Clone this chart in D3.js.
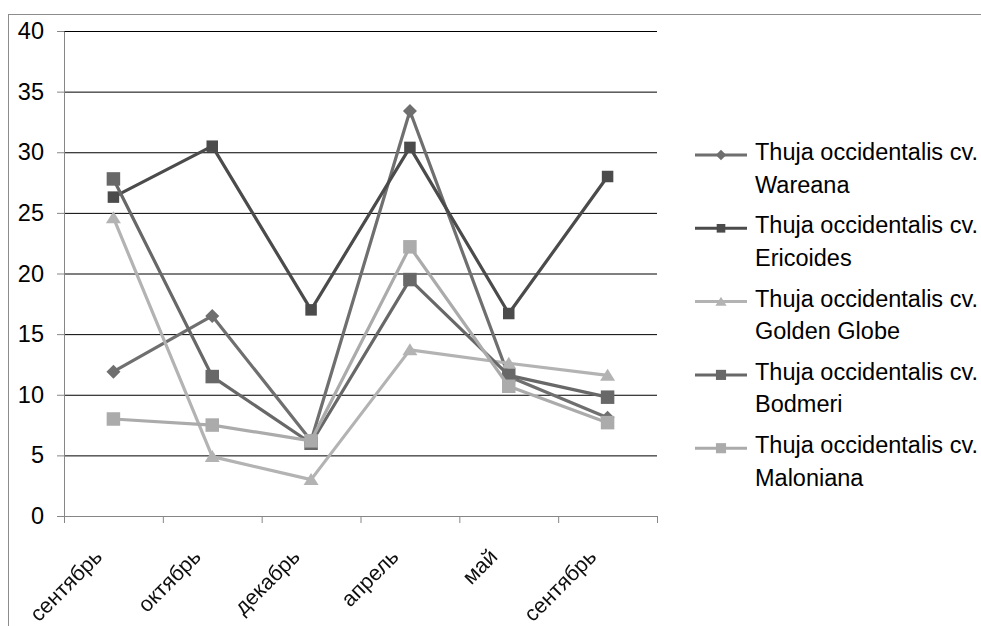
<!DOCTYPE html>
<html>
<head>
<meta charset="utf-8">
<script src="https://cdn.jsdelivr.net/npm/d3@7"></script>
<style>
  html, body { margin: 0; padding: 0; background: #fff; }
  svg { display: block; }
  text { font-family: "Liberation Sans", Arial, sans-serif; }
</style>
</head>
<body>
<svg id="chart" width="981" height="626"></svg>
<script>
// Months of observation
const months = ["сентябрь", "октябрь", "декабрь", "апрель", "май", "сентябрь"];
const yTicks = [0, 5, 10, 15, 20, 25, 30, 35, 40];

// Cultivar names (legend) and their measured values per month
const genus = "Thuja occidentalis cv.";
const cultivars = ["Wareana", "Ericoides", "Golden Globe", "Bodmeri", "Maloniana"];
const wareana     = [11.9, 16.5, 6.2, 33.4, 11.5, 8.1];
const ericoides   = [26.3, 30.5, 17.0, 30.4, 16.7, 28.0];
const goldenGlobe = [24.6, 4.9, 3.0, 13.7, 12.6, 11.6];
const bodmeri     = [27.8, 11.5, 6.0, 19.5, 11.6, 9.8];
const maloniana   = [8.0, 7.5, 6.2, 22.2, 10.7, 7.7];

const seriesValues = [wareana, ericoides, goldenGlobe, bodmeri, maloniana];
const colors  = ["#6f6f6f", "#4b4b4b", "#b3b3b3", "#686868", "#ababab"];
const markers = ["diamond", "smallSquare", "triangle", "square", "square"];

const svg = d3.select("#chart");

// slight softening used for the rotated month labels
svg.append("defs").append("filter").attr("id", "soft")
  .append("feGaussianBlur").attr("stdDeviation", 0.45);

// outer chart frame (runs off the right and bottom edges)
svg.append("rect")
  .attr("x", 8.5).attr("y", 14.5)
  .attr("width", 1100).attr("height", 700)
  .attr("fill", "none").attr("stroke", "#8c8c8c").attr("stroke-width", 1);

const plot = { left: 64, right: 657, top: 31, bottom: 516 };

const x = d3.scaleLinear().domain([0, months.length]).range([plot.left, plot.right]);
const y = d3.scaleLinear().domain([0, 40]).range([plot.bottom, plot.top]);

// horizontal gridlines
const grid = svg.append("g").attr("transform", `translate(${plot.left},0)`)
  .call(d3.axisLeft(y).tickValues(yTicks.filter(v => v > 0))
    .tickSize(-(plot.right - plot.left)).tickFormat(""));
grid.select(".domain").remove();
grid.selectAll(".tick line").attr("stroke", "#000").attr("stroke-width", 1);

// y axis
const yAxis = svg.append("g").attr("transform", `translate(${plot.left},0)`)
  .call(d3.axisLeft(y).tickValues(yTicks).tickSize(7).tickPadding(13).tickSizeOuter(0));
yAxis.select(".domain").attr("stroke", "#868686");
yAxis.selectAll(".tick line").attr("stroke", "#868686");
yAxis.selectAll(".tick text")
  .attr("font-size", 23.5).attr("fill", "#000")
  .style("font-family", "'Liberation Sans', Arial, sans-serif");

// x axis with ticks between categories
const xAxis = svg.append("g").attr("transform", `translate(0,${plot.bottom})`)
  .call(d3.axisBottom(x).ticks(months.length).tickSize(7).tickSizeOuter(0).tickFormat(""));
xAxis.select(".domain").attr("stroke", "#868686");
xAxis.selectAll(".tick line").attr("stroke", "#868686");

// rotated month labels
const cx = i => x(i + 0.5);
svg.append("g").attr("filter", "url(#soft)").selectAll("text")
  .data(months)
  .join("text")
  .attr("transform", (d, i) => `translate(${cx(i) - 10},${plot.bottom + 42}) rotate(-45)`)
  .attr("text-anchor", "end")
  .attr("font-size", 21.5)
  .attr("fill", "#111")
  .text(d => d);

// marker shapes
function drawMarker(g, kind, color, px, py, scale = 1) {
  if (kind === "diamond") {
    const r = 7 * scale;
    g.append("path")
      .attr("d", `M${px},${py - r}L${px + r},${py}L${px},${py + r}L${px - r},${py}Z`)
      .attr("fill", color);
  } else if (kind === "triangle") {
    const w = 7.5 * scale, h = 12 * scale;
    g.append("path")
      .attr("d", `M${px},${py - h * 0.55}L${px + w},${py + h * 0.45}L${px - w},${py + h * 0.45}Z`)
      .attr("fill", color);
  } else {
    const s = (kind === "smallSquare" ? 11.5 : 13.5) * scale;
    g.append("rect")
      .attr("x", px - s / 2).attr("y", py - s / 2)
      .attr("width", s).attr("height", s)
      .attr("fill", color);
  }
}

const line = d3.line().x((d, i) => cx(i)).y(d => y(d));

seriesValues.forEach((vals, k) => {
  const g = svg.append("g");
  g.append("path")
    .attr("d", line(vals))
    .attr("fill", "none")
    .attr("stroke", colors[k])
    .attr("stroke-width", 3.2)
    .attr("stroke-linejoin", "round");
  vals.forEach((v, i) => drawMarker(g, markers[k], colors[k], cx(i), y(v)));
});

// legend
const legend = svg.append("g");
cultivars.forEach((name, k) => {
  const ly = 155 + k * 73.3;
  const g = legend.append("g");
  g.append("line")
    .attr("x1", 695).attr("x2", 747)
    .attr("y1", ly).attr("y2", ly)
    .attr("stroke", colors[k]).attr("stroke-width", 3);
  drawMarker(g, markers[k], colors[k], 721, ly, 0.75);
  const t = g.append("text")
    .attr("x", 755).attr("y", ly + 5)
    .attr("font-size", 23.5).attr("fill", "#000");
  t.append("tspan").attr("x", 755).text(genus);
  t.append("tspan").attr("x", 755).attr("dy", 32.5).text(name);
});
</script>
</body>
</html>
